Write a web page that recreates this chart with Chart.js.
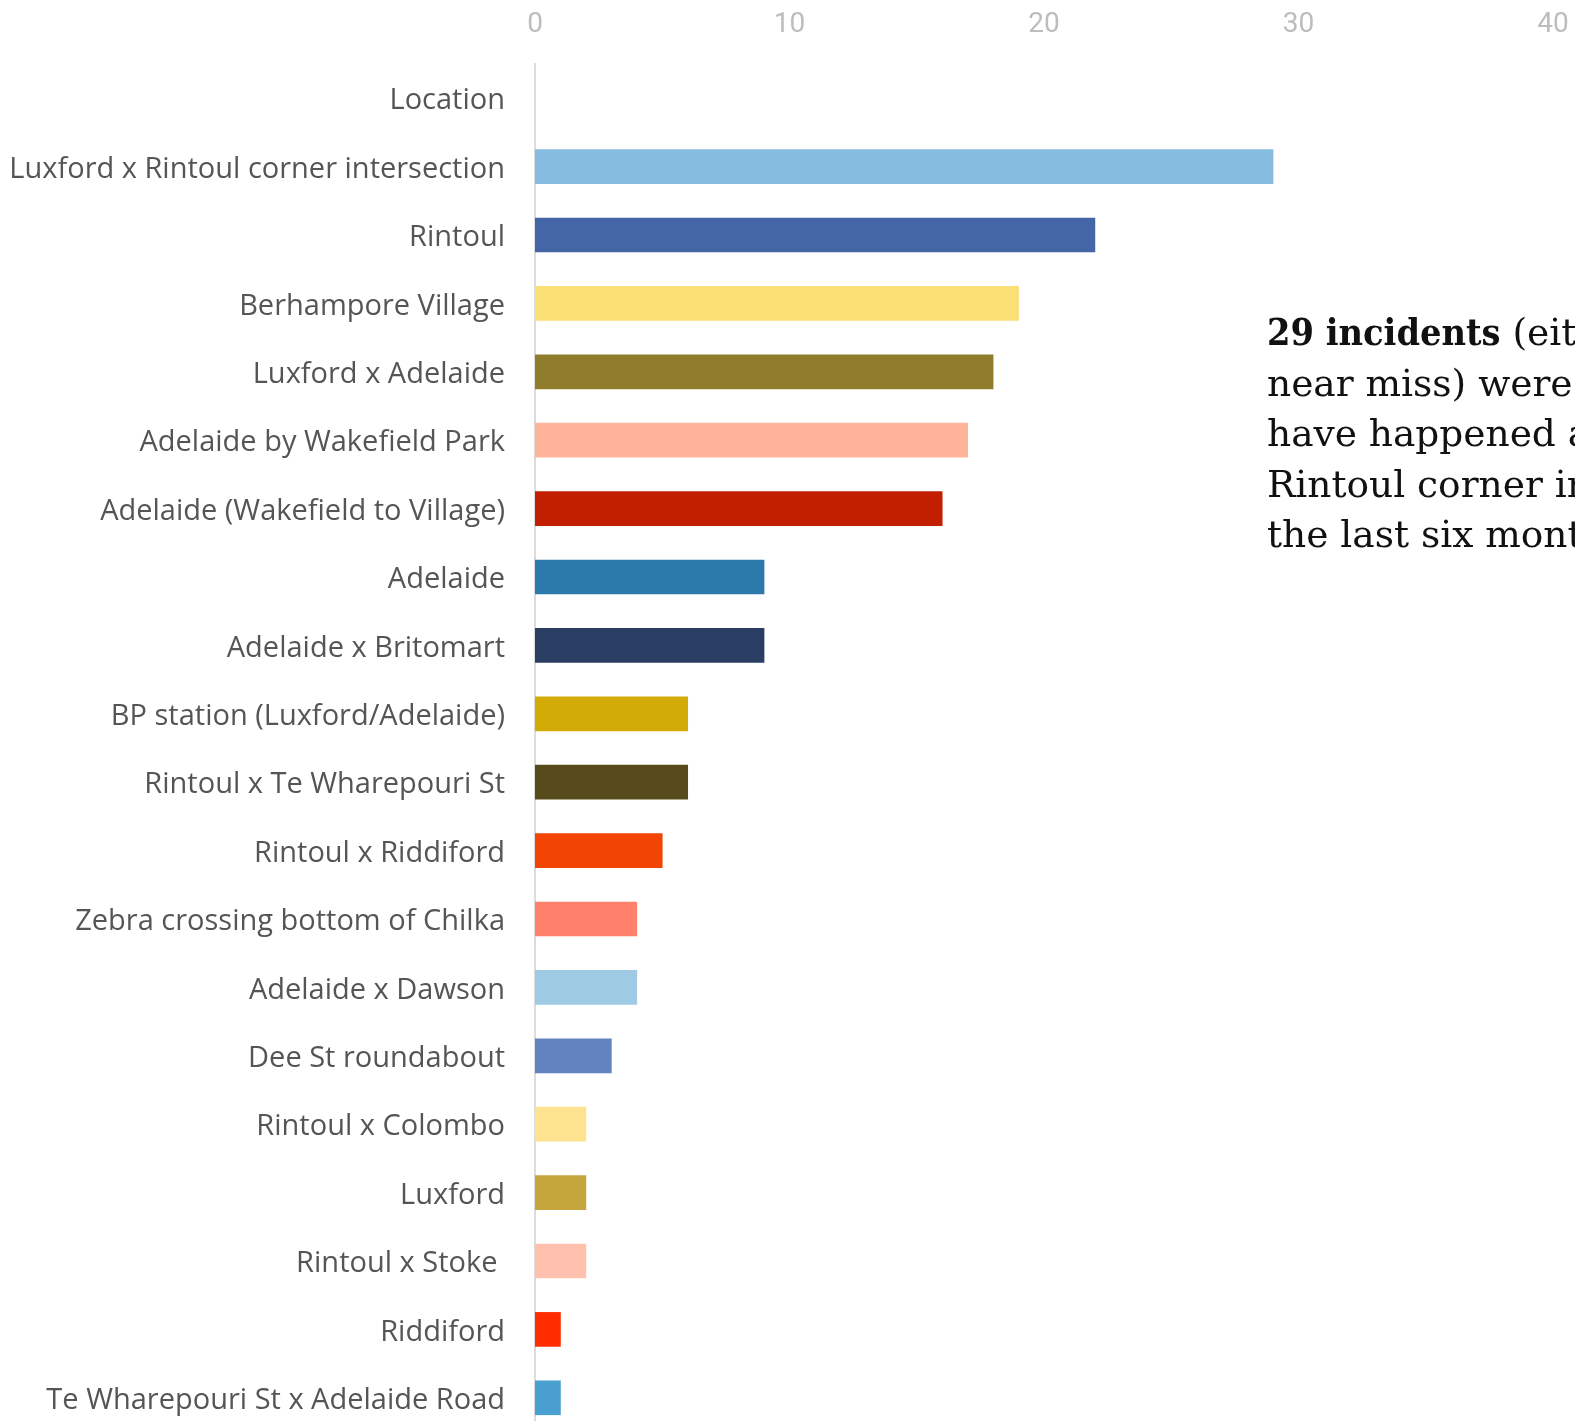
<!DOCTYPE html>
<html>
<head>
<meta charset="utf-8">
<script src="https://cdn.jsdelivr.net/npm/chart.js@4/dist/chart.umd.min.js"></script>
<style>
  html, body { margin: 0; padding: 0; background: #fff; width: 1575px; height: 1421px; overflow: hidden; }
  #wrap { position: relative; width: 1575px; height: 1421px; overflow: hidden; }
  #c { position: absolute; left: 0; top: 0; }
  #note {
    position: absolute; left: 1267px; top: 307px; width: 700px;
    font-family: "DejaVu Serif", "Liberation Serif", serif;
    font-size: 37.5px; line-height: 50.5px; color: #111; white-space: nowrap;
  }
  #note b { font-family: "DejaVu Serif Condensed", "DejaVu Serif", serif; font-weight: bold; }
</style>
</head>
<body>
<div id="wrap">
  <canvas id="c" width="1575" height="1440"></canvas>
  <div id="note"><b>29 incidents</b> (either a crash or<br>near miss) were reported to<br>have happened at the Luxford x<br>Rintoul corner intersection in<br>the last six months</div>
</div>
<script>
// Incidents by location
const locations = [
  "Location",
  "Luxford x Rintoul corner intersection",
  "Rintoul",
  "Berhampore Village",
  "Luxford x Adelaide",
  "Adelaide by Wakefield Park",
  "Adelaide (Wakefield to Village)",
  "Adelaide",
  "Adelaide x Britomart",
  "BP station (Luxford/Adelaide)",
  "Rintoul x Te Wharepouri St",
  "Rintoul x Riddiford",
  "Zebra crossing bottom of Chilka",
  "Adelaide x Dawson",
  "Dee St roundabout",
  "Rintoul x Colombo",
  "Luxford",
  "Rintoul x Stoke ",
  "Riddiford",
  "Te Wharepouri St x Adelaide Road"
];
const incidents = [null, 29, 22, 19, 18, 17, 16, 9, 9, 6, 6, 5, 4, 4, 3, 2, 2, 2, 1, 1];
const barColours = [
  "#ffffff", "#85bce0", "#4466a6", "#fadf74", "#907d2c", "#ffb398", "#c11f00",
  "#2c7aab", "#2a3d63", "#d3ab06", "#574b1c", "#f24402", "#ff806b", "#9ecae4",
  "#6283bf", "#fde390", "#c5a63c", "#ffc1ae", "#ff2c00", "#4a9fd1"
];
const xTicks = [0, 10, 20, 30, 40];

// Keep the plot area fixed: no extra room reserved for end labels
function clearScalePadding(s) {
  s.paddingTop = 0;
  s.paddingBottom = 0;
  s.paddingLeft = 0;
  s.paddingRight = 0;
}

// Nudge the category labels down a little so they sit level with the bars
function lowerLabels(s, dy) {
  if (s._lowered) return;
  const draw = s.drawLabels.bind(s);
  s.drawLabels = (area) => {
    s.ctx.save();
    s.ctx.translate(0, dy);
    draw(area);
    s.ctx.restore();
  };
  s._lowered = true;
}

new Chart(document.getElementById("c"), {
  type: "bar",
  data: {
    labels: locations,
    datasets: [{
      data: incidents,
      backgroundColor: barColours,
      borderWidth: 0,
      barThickness: 34
    }]
  },
  options: {
    indexAxis: "y",
    responsive: false,
    animation: false,
    layout: { padding: { left: 0, right: 22, top: 0, bottom: 8 } },
    plugins: { legend: { display: false }, tooltip: { enabled: false } },
    scales: {
      x: {
        position: "top",
        min: xTicks[0],
        max: xTicks[xTicks.length - 1],
        afterBuildTicks: (s) => { s.ticks = xTicks.map(v => ({ value: v })); },
        grid: { display: false, drawTicks: false },
        border: { display: false },
        ticks: {
          padding: 22,
          color: "#bdbdbd",
          font: { family: "'Liberation Sans Narrow', 'Roboto', sans-serif", size: 28 }
        },
        afterFit: (s) => { s.height = 64; clearScalePadding(s); }
      },
      y: {
        grid: { display: false, drawTicks: false },
        border: { display: true, color: "#dcdcdc", width: 2 },
        ticks: {
          padding: 30,
          color: "#555555",
          font: { family: "'Open Sans', sans-serif", size: 29 }
        },
        afterFit: (s) => { s.width = 535; clearScalePadding(s); lowerLabels(s, 3); }
      }
    }
  }
});
</script>
</body>
</html>
